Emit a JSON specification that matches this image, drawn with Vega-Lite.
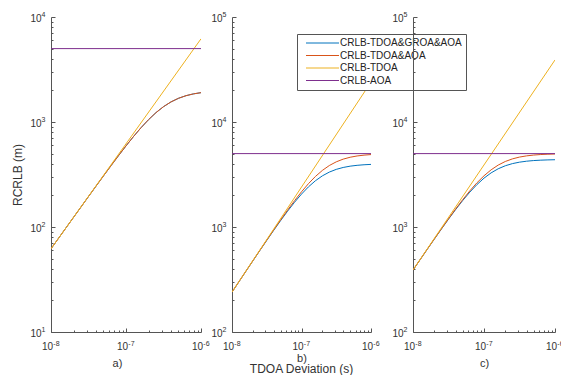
{
  "$schema": "https://vega.github.io/schema/vega-lite/v6.json",
  "padding": {"left": 11, "top": 10, "right": 0, "bottom": 0},
  "background": "white",
  "config": {
    "view": {"stroke": null},
    "font": "Liberation Sans",
    "axis": {
      "grid": false,
      "domainColor": "#555555",
      "tickColor": "#555555",
      "labelColor": "#333333",
      "labelFont": "Liberation Sans",
      "labelFontSize": 10,
      "labelFlush": false,
      "labelOverlap": false,
      "titleFont": "Liberation Sans",
      "titleColor": "#333333",
      "titleFontWeight": "normal",
      "titleFontSize": 11
    }
  },
  "data": {
    "values": [
      {"panel": "a", "series": "CRLB-TDOA&GROA&AOA", "x": 1e-8, "y": 62},
      {"panel": "a", "series": "CRLB-TDOA&GROA&AOA", "x": 1.2589e-8, "y": 78},
      {"panel": "a", "series": "CRLB-TDOA&GROA&AOA", "x": 1.5849e-8, "y": 98.2},
      {"panel": "a", "series": "CRLB-TDOA&GROA&AOA", "x": 1.9953e-8, "y": 123.5},
      {"panel": "a", "series": "CRLB-TDOA&GROA&AOA", "x": 2.5119e-8, "y": 155.2},
      {"panel": "a", "series": "CRLB-TDOA&GROA&AOA", "x": 3.1623e-8, "y": 195.2},
      {"panel": "a", "series": "CRLB-TDOA&GROA&AOA", "x": 3.9811e-8, "y": 244.9},
      {"panel": "a", "series": "CRLB-TDOA&GROA&AOA", "x": 5.0119e-8, "y": 307},
      {"panel": "a", "series": "CRLB-TDOA&GROA&AOA", "x": 6.3096e-8, "y": 383.9},
      {"panel": "a", "series": "CRLB-TDOA&GROA&AOA", "x": 7.9433e-8, "y": 478.2},
      {"panel": "a", "series": "CRLB-TDOA&GROA&AOA", "x": 1e-7, "y": 592.2},
      {"panel": "a", "series": "CRLB-TDOA&GROA&AOA", "x": 1.2589e-7, "y": 727.1},
      {"panel": "a", "series": "CRLB-TDOA&GROA&AOA", "x": 1.5849e-7, "y": 881.9},
      {"panel": "a", "series": "CRLB-TDOA&GROA&AOA", "x": 1.9953e-7, "y": 1052},
      {"panel": "a", "series": "CRLB-TDOA&GROA&AOA", "x": 2.5119e-7, "y": 1229},
      {"panel": "a", "series": "CRLB-TDOA&GROA&AOA", "x": 3.1623e-7, "y": 1400},
      {"panel": "a", "series": "CRLB-TDOA&GROA&AOA", "x": 3.9811e-7, "y": 1554},
      {"panel": "a", "series": "CRLB-TDOA&GROA&AOA", "x": 5.0119e-7, "y": 1682},
      {"panel": "a", "series": "CRLB-TDOA&GROA&AOA", "x": 6.3096e-7, "y": 1781},
      {"panel": "a", "series": "CRLB-TDOA&GROA&AOA", "x": 7.9433e-7, "y": 1853},
      {"panel": "a", "series": "CRLB-TDOA&GROA&AOA", "x": 1e-6, "y": 1903},
      {"panel": "a", "series": "CRLB-TDOA&AOA", "x": 1e-8, "y": 62},
      {"panel": "a", "series": "CRLB-TDOA&AOA", "x": 1.2589e-8, "y": 78},
      {"panel": "a", "series": "CRLB-TDOA&AOA", "x": 1.5849e-8, "y": 98.2},
      {"panel": "a", "series": "CRLB-TDOA&AOA", "x": 1.9953e-8, "y": 123.5},
      {"panel": "a", "series": "CRLB-TDOA&AOA", "x": 2.5119e-8, "y": 155.2},
      {"panel": "a", "series": "CRLB-TDOA&AOA", "x": 3.1623e-8, "y": 195.2},
      {"panel": "a", "series": "CRLB-TDOA&AOA", "x": 3.9811e-8, "y": 244.9},
      {"panel": "a", "series": "CRLB-TDOA&AOA", "x": 5.0119e-8, "y": 307},
      {"panel": "a", "series": "CRLB-TDOA&AOA", "x": 6.3096e-8, "y": 383.9},
      {"panel": "a", "series": "CRLB-TDOA&AOA", "x": 7.9433e-8, "y": 478.2},
      {"panel": "a", "series": "CRLB-TDOA&AOA", "x": 1e-7, "y": 592.2},
      {"panel": "a", "series": "CRLB-TDOA&AOA", "x": 1.2589e-7, "y": 727.1},
      {"panel": "a", "series": "CRLB-TDOA&AOA", "x": 1.5849e-7, "y": 881.9},
      {"panel": "a", "series": "CRLB-TDOA&AOA", "x": 1.9953e-7, "y": 1052},
      {"panel": "a", "series": "CRLB-TDOA&AOA", "x": 2.5119e-7, "y": 1229},
      {"panel": "a", "series": "CRLB-TDOA&AOA", "x": 3.1623e-7, "y": 1400},
      {"panel": "a", "series": "CRLB-TDOA&AOA", "x": 3.9811e-7, "y": 1554},
      {"panel": "a", "series": "CRLB-TDOA&AOA", "x": 5.0119e-7, "y": 1682},
      {"panel": "a", "series": "CRLB-TDOA&AOA", "x": 6.3096e-7, "y": 1781},
      {"panel": "a", "series": "CRLB-TDOA&AOA", "x": 7.9433e-7, "y": 1853},
      {"panel": "a", "series": "CRLB-TDOA&AOA", "x": 1e-6, "y": 1903},
      {"panel": "a", "series": "CRLB-TDOA", "x": 1e-8, "y": 62},
      {"panel": "a", "series": "CRLB-TDOA", "x": 1e-6, "y": 6200},
      {"panel": "a", "series": "CRLB-AOA", "x": 1e-8, "y": 5000},
      {"panel": "a", "series": "CRLB-AOA", "x": 1e-6, "y": 5000},

      {"panel": "b", "series": "CRLB-TDOA&GROA&AOA", "x": 1e-8, "y": 239.6},
      {"panel": "b", "series": "CRLB-TDOA&GROA&AOA", "x": 1.2589e-8, "y": 301.2},
      {"panel": "b", "series": "CRLB-TDOA&GROA&AOA", "x": 1.5849e-8, "y": 378.7},
      {"panel": "b", "series": "CRLB-TDOA&GROA&AOA", "x": 1.9953e-8, "y": 475.5},
      {"panel": "b", "series": "CRLB-TDOA&GROA&AOA", "x": 2.5119e-8, "y": 596.2},
      {"panel": "b", "series": "CRLB-TDOA&GROA&AOA", "x": 3.1623e-8, "y": 745.6},
      {"panel": "b", "series": "CRLB-TDOA&GROA&AOA", "x": 3.9811e-8, "y": 929.4},
      {"panel": "b", "series": "CRLB-TDOA&GROA&AOA", "x": 5.0119e-8, "y": 1152},
      {"panel": "b", "series": "CRLB-TDOA&GROA&AOA", "x": 6.3096e-8, "y": 1416},
      {"panel": "b", "series": "CRLB-TDOA&GROA&AOA", "x": 7.9433e-8, "y": 1721},
      {"panel": "b", "series": "CRLB-TDOA&GROA&AOA", "x": 1e-7, "y": 2058},
      {"panel": "b", "series": "CRLB-TDOA&GROA&AOA", "x": 1.2589e-7, "y": 2411},
      {"panel": "b", "series": "CRLB-TDOA&GROA&AOA", "x": 1.5849e-7, "y": 2756},
      {"panel": "b", "series": "CRLB-TDOA&GROA&AOA", "x": 1.9953e-7, "y": 3070},
      {"panel": "b", "series": "CRLB-TDOA&GROA&AOA", "x": 2.5119e-7, "y": 3333},
      {"panel": "b", "series": "CRLB-TDOA&GROA&AOA", "x": 3.1623e-7, "y": 3539},
      {"panel": "b", "series": "CRLB-TDOA&GROA&AOA", "x": 3.9811e-7, "y": 3690},
      {"panel": "b", "series": "CRLB-TDOA&GROA&AOA", "x": 5.0119e-7, "y": 3796},
      {"panel": "b", "series": "CRLB-TDOA&GROA&AOA", "x": 6.3096e-7, "y": 3867},
      {"panel": "b", "series": "CRLB-TDOA&GROA&AOA", "x": 7.9433e-7, "y": 3915},
      {"panel": "b", "series": "CRLB-TDOA&GROA&AOA", "x": 1e-6, "y": 3946},
      {"panel": "b", "series": "CRLB-TDOA&AOA", "x": 1e-8, "y": 239.7},
      {"panel": "b", "series": "CRLB-TDOA&AOA", "x": 1.2589e-8, "y": 301.6},
      {"panel": "b", "series": "CRLB-TDOA&AOA", "x": 1.5849e-8, "y": 379.3},
      {"panel": "b", "series": "CRLB-TDOA&AOA", "x": 1.9953e-8, "y": 476.7},
      {"panel": "b", "series": "CRLB-TDOA&AOA", "x": 2.5119e-8, "y": 598.6},
      {"panel": "b", "series": "CRLB-TDOA&AOA", "x": 3.1623e-8, "y": 750.3},
      {"panel": "b", "series": "CRLB-TDOA&AOA", "x": 3.9811e-8, "y": 938.5},
      {"panel": "b", "series": "CRLB-TDOA&AOA", "x": 5.0119e-8, "y": 1170},
      {"panel": "b", "series": "CRLB-TDOA&AOA", "x": 6.3096e-8, "y": 1449},
      {"panel": "b", "series": "CRLB-TDOA&AOA", "x": 7.9433e-8, "y": 1781},
      {"panel": "b", "series": "CRLB-TDOA&AOA", "x": 1e-7, "y": 2164},
      {"panel": "b", "series": "CRLB-TDOA&AOA", "x": 1.2589e-7, "y": 2586},
      {"panel": "b", "series": "CRLB-TDOA&AOA", "x": 1.5849e-7, "y": 3027},
      {"panel": "b", "series": "CRLB-TDOA&AOA", "x": 1.9953e-7, "y": 3458},
      {"panel": "b", "series": "CRLB-TDOA&AOA", "x": 2.5119e-7, "y": 3849},
      {"panel": "b", "series": "CRLB-TDOA&AOA", "x": 3.1623e-7, "y": 4175},
      {"panel": "b", "series": "CRLB-TDOA&AOA", "x": 3.9811e-7, "y": 4430},
      {"panel": "b", "series": "CRLB-TDOA&AOA", "x": 5.0119e-7, "y": 4617},
      {"panel": "b", "series": "CRLB-TDOA&AOA", "x": 6.3096e-7, "y": 4748},
      {"panel": "b", "series": "CRLB-TDOA&AOA", "x": 7.9433e-7, "y": 4836},
      {"panel": "b", "series": "CRLB-TDOA&AOA", "x": 1e-6, "y": 4895},
      {"panel": "b", "series": "CRLB-TDOA", "x": 1e-8, "y": 240},
      {"panel": "b", "series": "CRLB-TDOA", "x": 1e-6, "y": 24000},
      {"panel": "b", "series": "CRLB-AOA", "x": 1e-8, "y": 5000},
      {"panel": "b", "series": "CRLB-AOA", "x": 1e-6, "y": 5000},

      {"panel": "c", "series": "CRLB-TDOA&GROA&AOA", "x": 1e-8, "y": 388.5},
      {"panel": "c", "series": "CRLB-TDOA&GROA&AOA", "x": 1.2589e-8, "y": 488},
      {"panel": "c", "series": "CRLB-TDOA&GROA&AOA", "x": 1.5849e-8, "y": 612.1},
      {"panel": "c", "series": "CRLB-TDOA&GROA&AOA", "x": 1.9953e-8, "y": 766.3},
      {"panel": "c", "series": "CRLB-TDOA&GROA&AOA", "x": 2.5119e-8, "y": 956.2},
      {"panel": "c", "series": "CRLB-TDOA&GROA&AOA", "x": 3.1623e-8, "y": 1188},
      {"panel": "c", "series": "CRLB-TDOA&GROA&AOA", "x": 3.9811e-8, "y": 1464},
      {"panel": "c", "series": "CRLB-TDOA&GROA&AOA", "x": 5.0119e-8, "y": 1786},
      {"panel": "c", "series": "CRLB-TDOA&GROA&AOA", "x": 6.3096e-8, "y": 2148},
      {"panel": "c", "series": "CRLB-TDOA&GROA&AOA", "x": 7.9433e-8, "y": 2533},
      {"panel": "c", "series": "CRLB-TDOA&GROA&AOA", "x": 1e-7, "y": 2919},
      {"panel": "c", "series": "CRLB-TDOA&GROA&AOA", "x": 1.2589e-7, "y": 3277},
      {"panel": "c", "series": "CRLB-TDOA&GROA&AOA", "x": 1.5849e-7, "y": 3585},
      {"panel": "c", "series": "CRLB-TDOA&GROA&AOA", "x": 1.9953e-7, "y": 3830},
      {"panel": "c", "series": "CRLB-TDOA&GROA&AOA", "x": 2.5119e-7, "y": 4014},
      {"panel": "c", "series": "CRLB-TDOA&GROA&AOA", "x": 3.1623e-7, "y": 4144},
      {"panel": "c", "series": "CRLB-TDOA&GROA&AOA", "x": 3.9811e-7, "y": 4233},
      {"panel": "c", "series": "CRLB-TDOA&GROA&AOA", "x": 5.0119e-7, "y": 4293},
      {"panel": "c", "series": "CRLB-TDOA&GROA&AOA", "x": 6.3096e-7, "y": 4331},
      {"panel": "c", "series": "CRLB-TDOA&GROA&AOA", "x": 7.9433e-7, "y": 4356},
      {"panel": "c", "series": "CRLB-TDOA&GROA&AOA", "x": 1e-6, "y": 4372},
      {"panel": "c", "series": "CRLB-TDOA&AOA", "x": 1e-8, "y": 388.8},
      {"panel": "c", "series": "CRLB-TDOA&AOA", "x": 1.2589e-8, "y": 488.6},
      {"panel": "c", "series": "CRLB-TDOA&AOA", "x": 1.5849e-8, "y": 613.4},
      {"panel": "c", "series": "CRLB-TDOA&AOA", "x": 1.9953e-8, "y": 768.9},
      {"panel": "c", "series": "CRLB-TDOA&AOA", "x": 2.5119e-8, "y": 961.3},
      {"panel": "c", "series": "CRLB-TDOA&AOA", "x": 3.1623e-8, "y": 1197},
      {"panel": "c", "series": "CRLB-TDOA&AOA", "x": 3.9811e-8, "y": 1483},
      {"panel": "c", "series": "CRLB-TDOA&AOA", "x": 5.0119e-8, "y": 1820},
      {"panel": "c", "series": "CRLB-TDOA&AOA", "x": 6.3096e-8, "y": 2208},
      {"panel": "c", "series": "CRLB-TDOA&AOA", "x": 7.9433e-8, "y": 2633},
      {"panel": "c", "series": "CRLB-TDOA&AOA", "x": 1e-7, "y": 3075},
      {"panel": "c", "series": "CRLB-TDOA&AOA", "x": 1.2589e-7, "y": 3503},
      {"panel": "c", "series": "CRLB-TDOA&AOA", "x": 1.5849e-7, "y": 3887},
      {"panel": "c", "series": "CRLB-TDOA&AOA", "x": 1.9953e-7, "y": 4207},
      {"panel": "c", "series": "CRLB-TDOA&AOA", "x": 2.5119e-7, "y": 4454},
      {"panel": "c", "series": "CRLB-TDOA&AOA", "x": 3.1623e-7, "y": 4634},
      {"panel": "c", "series": "CRLB-TDOA&AOA", "x": 3.9811e-7, "y": 4759},
      {"panel": "c", "series": "CRLB-TDOA&AOA", "x": 5.0119e-7, "y": 4844},
      {"panel": "c", "series": "CRLB-TDOA&AOA", "x": 6.3096e-7, "y": 4900},
      {"panel": "c", "series": "CRLB-TDOA&AOA", "x": 7.9433e-7, "y": 4936},
      {"panel": "c", "series": "CRLB-TDOA&AOA", "x": 1e-6, "y": 4959},
      {"panel": "c", "series": "CRLB-TDOA", "x": 1e-8, "y": 390},
      {"panel": "c", "series": "CRLB-TDOA", "x": 1e-6, "y": 39000},
      {"panel": "c", "series": "CRLB-AOA", "x": 1e-8, "y": 5000},
      {"panel": "c", "series": "CRLB-AOA", "x": 1e-6, "y": 5000}
    ]
  },
  "spacing": 31,
  "bounds": "flush",
  "resolve": {"scale": {"color": "independent"}, "legend": {"color": "independent"}},
  "hconcat": [
    {
      "width": 150,
      "height": 315,
      "transform": [{"filter": "datum.panel == 'a'"}],
      "layer": [
        {
          "mark": {"type": "line", "strokeWidth": 1, "clip": true},
          "encoding": {
            "x": {
              "field": "x", "type": "quantitative",
              "scale": {"type": "log", "domain": [1e-8, 1e-6], "nice": false},
              "axis": {"orient": "bottom", "values": [1e-8, 1e-7, 1e-6], "tickSize": -4, "labelPadding": 13, "labelBaseline": "top",
                       "labelExpr": "'10'", "labelOffset": -4,
                       "title": "a)", "titlePadding": 6, "titleX": 66}
            },
            "y": {
              "field": "y", "type": "quantitative",
              "scale": {"type": "log", "domain": [10, 10000], "nice": false},
              "axis": {"orient": "left", "values": [10, 100, 1000, 10000], "tickSize": -4, "labelPadding": 14, "labelOffset": 1,
                       "labelExpr": "'10'",
                       "title": "RCRLB (m)", "titleFontSize": 12, "titlePadding": 5}
            },
            "color": {
              "field": "series", "type": "nominal",
              "scale": {"domain": ["CRLB-TDOA&GROA&AOA", "CRLB-TDOA&AOA", "CRLB-TDOA", "CRLB-AOA"],
                        "range": ["#0072BD", "#D95319", "#EDB120", "#7E2F8E"]},
              "legend": null
            }
          }
        },
        {
          "mark": {"type": "point", "opacity": 0},
          "encoding": {
            "x": {"field": "x", "type": "quantitative",
                  "axis": {"orient": "bottom", "values": [2e-8, 3e-8, 4e-8, 5e-8, 6e-8, 7e-8, 8e-8, 9e-8, 2e-7, 3e-7, 4e-7, 5e-7, 6e-7, 7e-7, 8e-7, 9e-7],
                           "tickSize": -2, "labels": false, "domain": false, "title": null}},
            "y": {"field": "y", "type": "quantitative",
                  "axis": {"orient": "left", "values": [20, 30, 40, 50, 60, 70, 80, 90, 200, 300, 400, 500, 600, 700, 800, 900, 2000, 3000, 4000, 5000, 6000, 7000, 8000, 9000],
                           "tickSize": -2, "labels": false, "domain": false, "title": null}}
          }
        },
        {
          "mark": {"type": "point", "opacity": 0},
          "encoding": {
            "x": {"field": "x", "type": "quantitative",
                  "axis": {"orient": "bottom", "values": [1e-8, 1e-7, 1e-6], "ticks": false, "domain": false, "title": null,
                           "labelExpr": "'' + round(log(datum.value) / LN10)", "labelFontSize": 7, "labelAlign": "left",
                           "labelBaseline": "top", "labelOffset": 1.8, "labelPadding": 7}},
            "y": {"field": "y", "type": "quantitative",
                  "axis": {"orient": "left", "values": [10, 100, 1000, 10000], "ticks": false, "domain": false, "title": null,
                           "labelExpr": "'' + round(log(datum.value) / LN10)", "labelFontSize": 7, "labelAlign": "right",
                           "labelOffset": -3, "labelPadding": 6}}
          }
        }
      ],
      "resolve": {"axis": {"x": "independent", "y": "independent"}}
    },
    {
      "spacing": 42,
      "bounds": "flush",
      "resolve": {"scale": {"color": "independent"}, "legend": {"color": "independent"}},
      "hconcat": [
        {
          "width": 139,
          "height": 315,
          "title": {"text": "TDOA Deviation (s)", "orient": "bottom", "frame": "group", "anchor": "middle", "fontSize": 12, "fontWeight": "normal", "font": "Liberation Sans", "color": "#333333", "offset": 1},
          "transform": [{"filter": "datum.panel == 'b'"}],
          "layer": [
            {
              "mark": {"type": "line", "strokeWidth": 1, "clip": true},
              "encoding": {
                "x": {
                  "field": "x", "type": "quantitative",
                  "scale": {"type": "log", "domain": [1e-8, 1e-6], "nice": false},
                  "axis": {"orient": "bottom", "values": [1e-8, 1e-7, 1e-6], "tickSize": -4, "labelPadding": 13, "labelBaseline": "top",
                           "labelExpr": "'10'", "labelOffset": -4,
                           "title": "b)", "titlePadding": 1}
                },
                "y": {
                  "field": "y", "type": "quantitative",
                  "scale": {"type": "log", "domain": [100, 100000], "nice": false},
                  "axis": {"orient": "left", "values": [100, 1000, 10000, 100000], "tickSize": -4, "labelPadding": 14, "labelOffset": 1,
                           "labelExpr": "'10'", "title": null}
                },
                "color": {
                  "field": "series", "type": "nominal",
                  "scale": {"domain": ["CRLB-TDOA&GROA&AOA", "CRLB-TDOA&AOA", "CRLB-TDOA", "CRLB-AOA"],
                            "range": ["#0072BD", "#D95319", "#EDB120", "#7E2F8E"]},
                  "legend": {
                    "orient": "none", "legendX": 65, "legendY": 17, "title": null,
                    "symbolType": "M0,0H16.5", "symbolSize": 16, "symbolStrokeWidth": 1,
                    "labelFont": "Liberation Sans", "labelFontSize": 10, "labelColor": "#222222", "labelOffset": 29,
                    "fillColor": "white", "strokeColor": "#555555", "padding": 4, "rowPadding": 2.5
                  }
                }
              }
            },
            {
              "mark": {"type": "point", "opacity": 0},
              "encoding": {
                "x": {"field": "x", "type": "quantitative",
                      "axis": {"orient": "bottom", "values": [2e-8, 3e-8, 4e-8, 5e-8, 6e-8, 7e-8, 8e-8, 9e-8, 2e-7, 3e-7, 4e-7, 5e-7, 6e-7, 7e-7, 8e-7, 9e-7],
                               "tickSize": -2, "labels": false, "domain": false, "title": null}},
                "y": {"field": "y", "type": "quantitative",
                      "axis": {"orient": "left", "values": [200, 300, 400, 500, 600, 700, 800, 900, 2000, 3000, 4000, 5000, 6000, 7000, 8000, 9000, 20000, 30000, 40000, 50000, 60000, 70000, 80000, 90000],
                               "tickSize": -2, "labels": false, "domain": false, "title": null}}
              }
            },
            {
              "mark": {"type": "point", "opacity": 0},
              "encoding": {
                "x": {"field": "x", "type": "quantitative",
                      "axis": {"orient": "bottom", "values": [1e-8, 1e-7, 1e-6], "ticks": false, "domain": false, "title": null,
                               "labelExpr": "'' + round(log(datum.value) / LN10)", "labelFontSize": 7, "labelAlign": "left",
                               "labelBaseline": "top", "labelOffset": 1.8, "labelPadding": 7}},
                "y": {"field": "y", "type": "quantitative",
                      "axis": {"orient": "left", "values": [100, 1000, 10000, 100000], "ticks": false, "domain": false, "title": null,
                               "labelExpr": "'' + round(log(datum.value) / LN10)", "labelFontSize": 7, "labelAlign": "right",
                               "labelOffset": -3, "labelPadding": 6}}
              }
            }
          ],
          "resolve": {"axis": {"x": "independent", "y": "independent"}}
        },
        {
          "width": 142,
          "height": 315,
          "transform": [{"filter": "datum.panel == 'c'"}],
          "layer": [
            {
              "mark": {"type": "line", "strokeWidth": 1, "clip": true},
              "encoding": {
                "x": {
                  "field": "x", "type": "quantitative",
                  "scale": {"type": "log", "domain": [1e-8, 1e-6], "nice": false},
                  "axis": {"orient": "bottom", "values": [1e-8, 1e-7, 1e-6], "tickSize": -4, "labelPadding": 13, "labelBaseline": "top",
                           "labelExpr": "'10'", "labelOffset": -4,
                           "title": "c)", "titlePadding": 6}
                },
                "y": {
                  "field": "y", "type": "quantitative",
                  "scale": {"type": "log", "domain": [100, 100000], "nice": false},
                  "axis": {"orient": "left", "values": [100, 1000, 10000, 100000], "tickSize": -4, "labelPadding": 14, "labelOffset": 1,
                           "labelExpr": "'10'", "title": null}
                },
                "color": {
                  "field": "series", "type": "nominal",
                  "scale": {"domain": ["CRLB-TDOA&GROA&AOA", "CRLB-TDOA&AOA", "CRLB-TDOA", "CRLB-AOA"],
                            "range": ["#0072BD", "#D95319", "#EDB120", "#7E2F8E"]},
                  "legend": null
                }
              }
            },
            {
              "mark": {"type": "point", "opacity": 0},
              "encoding": {
                "x": {"field": "x", "type": "quantitative",
                      "axis": {"orient": "bottom", "values": [2e-8, 3e-8, 4e-8, 5e-8, 6e-8, 7e-8, 8e-8, 9e-8, 2e-7, 3e-7, 4e-7, 5e-7, 6e-7, 7e-7, 8e-7, 9e-7],
                               "tickSize": -2, "labels": false, "domain": false, "title": null}},
                "y": {"field": "y", "type": "quantitative",
                      "axis": {"orient": "left", "values": [200, 300, 400, 500, 600, 700, 800, 900, 2000, 3000, 4000, 5000, 6000, 7000, 8000, 9000, 20000, 30000, 40000, 50000, 60000, 70000, 80000, 90000],
                               "tickSize": -2, "labels": false, "domain": false, "title": null}}
              }
            },
            {
              "mark": {"type": "point", "opacity": 0},
              "encoding": {
                "x": {"field": "x", "type": "quantitative",
                      "axis": {"orient": "bottom", "values": [1e-8, 1e-7, 1e-6], "ticks": false, "domain": false, "title": null,
                               "labelExpr": "'' + round(log(datum.value) / LN10)", "labelFontSize": 7, "labelAlign": "left",
                               "labelBaseline": "top", "labelOffset": 1.8, "labelPadding": 7}},
                "y": {"field": "y", "type": "quantitative",
                      "axis": {"orient": "left", "values": [100, 1000, 10000, 100000], "ticks": false, "domain": false, "title": null,
                               "labelExpr": "'' + round(log(datum.value) / LN10)", "labelFontSize": 7, "labelAlign": "right",
                               "labelOffset": -3, "labelPadding": 6}}
              }
            }
          ],
          "resolve": {"axis": {"x": "independent", "y": "independent"}}
        }
      ]
    }
  ]
}
